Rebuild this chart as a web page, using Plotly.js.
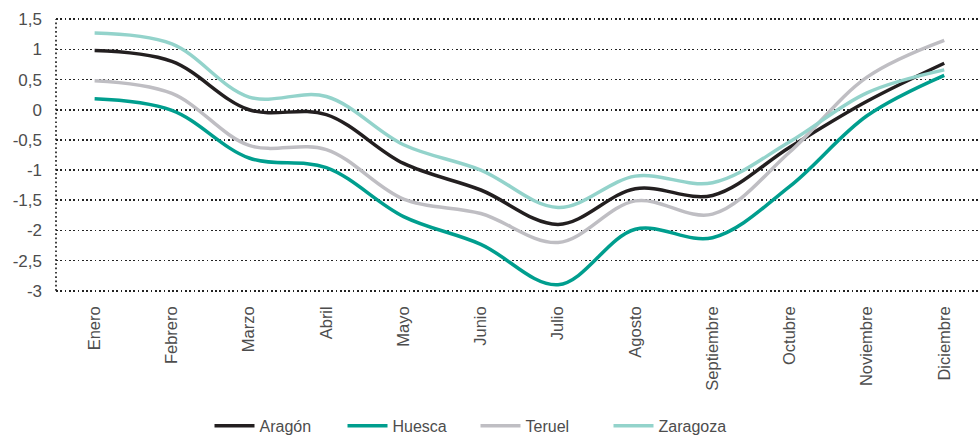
<!DOCTYPE html>
<html>
<head>
<meta charset="utf-8">
<script src="https://cdn.plot.ly/plotly-3.0.1.min.js"></script>
<style>html,body{margin:0;padding:0;background:#fff;}#chart{width:979px;height:435px;}</style>
</head>
<body>
<div id="chart"></div>
<script>
const months = ['Enero','Febrero','Marzo','Abril','Mayo','Junio','Julio','Agosto','Septiembre','Octubre','Noviembre','Diciembre'];
const aragon   = [0.98, 0.80, 0.00, -0.08, -0.89, -1.33, -1.90, -1.31, -1.42, -0.62, 0.14, 0.77];
const huesca   = [0.18, -0.01, -0.80, -0.96, -1.77, -2.23, -2.90, -1.98, -2.12, -1.27, -0.10, 0.57];
const teruel   = [0.48, 0.27, -0.59, -0.66, -1.48, -1.72, -2.20, -1.51, -1.73, -0.70, 0.54, 1.15];
const zaragoza = [1.27, 1.09, 0.21, 0.22, -0.58, -1.00, -1.62, -1.10, -1.21, -0.53, 0.28, 0.66];
const yTickVals = [1.5, 1, 0.5, 0, -0.5, -1, -1.5, -2, -2.5, -3];
const yTickText = ['1,5', '1', '0,5', '0', '-0,5', '-1', '-1,5', '-2', '-2,5', '-3'];

const FONT = 'Liberation Sans, Arial, sans-serif';
function series(name, y, color) {
  return {
    type: 'scatter', mode: 'lines', name: name, x: months, y: y,
    line: {color: color, width: 3.5, shape: 'spline', smoothing: 1}
  };
}
const data = [
  series('Aragón', aragon, '#231f20'),
  series('Huesca', huesca, '#009e8e'),
  series('Teruel', teruel, '#bfbec3'),
  series('Zaragoza', zaragoza, '#93d3cb')
];
const layout = {
  width: 979, height: 435,
  margin: {l: 56, r: 0, t: 18, b: 142.5, autoexpand: false},
  paper_bgcolor: '#fff', plot_bgcolor: '#fff',
  font: {family: FONT, color: '#4d4d4d', size: 16},
  showlegend: true,
  legend: {
    orientation: 'h', xref: 'container', x: 0.214, xanchor: 'left',
    yref: 'container', y: 0.021, yanchor: 'middle',
    font: {family: FONT, size: 16, color: '#4d4d4d'},
    itemwidth: 40, entrywidthmode: 'pixels', entrywidth: 78,
    traceorder: 'normal'
  },
  xaxis: {
    type: 'category', range: [-0.5, 11.45], fixedrange: true, automargin: false,
    showgrid: false, zeroline: false, showline: false, ticks: '',
    tickangle: -90, tickfont: {family: FONT, size: 16.5, color: '#4d4d4d'},
    ticklabelstandoff: 10
  },
  yaxis: {
    range: [-3.02, 1.52], fixedrange: true, automargin: false,
    tickmode: 'array', tickvals: yTickVals, ticktext: yTickText,
    showgrid: true, gridcolor: '#222', gridwidth: 1.7, griddash: '1.7px,2.6px',
    zeroline: false, showline: false, ticks: '',
    tickfont: {family: FONT, size: 17, color: '#4d4d4d'},
    ticklabelstandoff: 13
  },
  shapes: [{
    type: 'line', xref: 'paper', x0: 0, x1: 0, yref: 'y', y0: -3, y1: 1.5,
    line: {color: '#222', width: 1.7, dash: '1.7px,2.6px'}, layer: 'below'
  }]
};
Plotly.newPlot('chart', data, layout, {displayModeBar: false, staticPlot: true});
</script>
</body>
</html>
